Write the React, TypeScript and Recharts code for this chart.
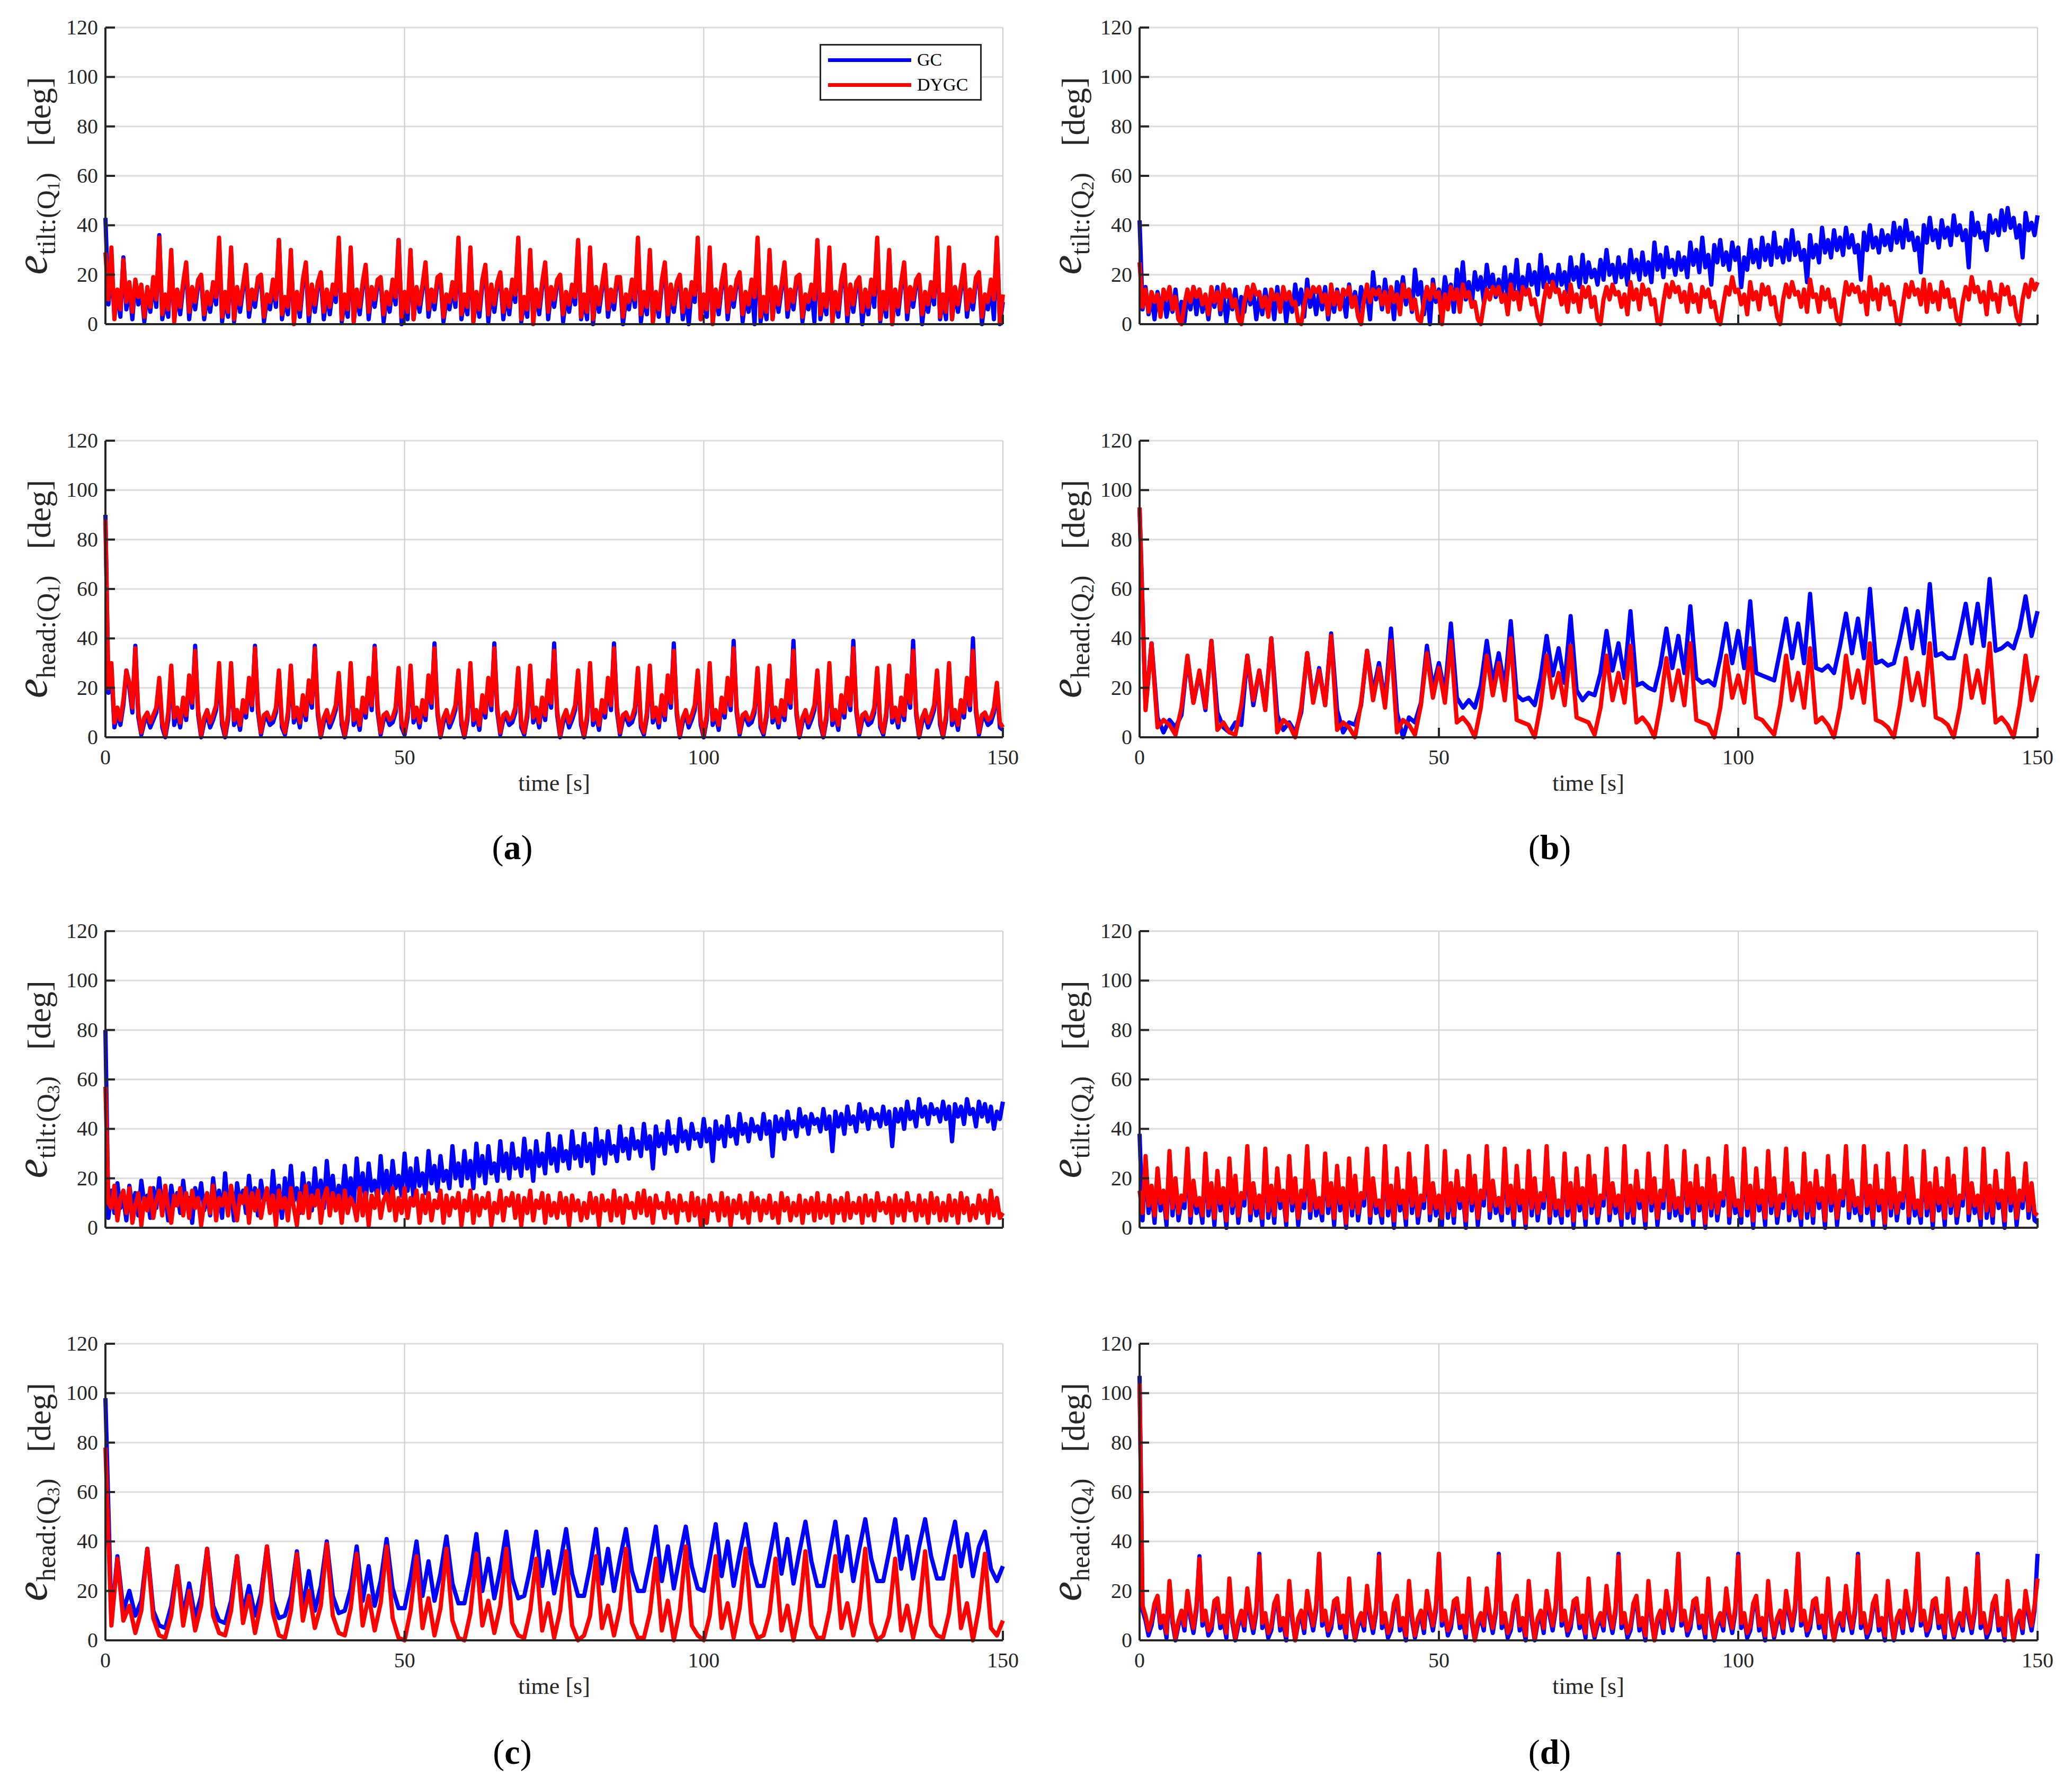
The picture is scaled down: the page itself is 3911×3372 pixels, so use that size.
import React from 'react';
import { LineChart, Line, XAxis, YAxis, CartesianGrid, Legend } from 'recharts';

const SERIF = '"Liberation Serif", "DejaVu Serif", serif';
const AXIS = '#262626';
const TICK_LEN = 18;

// time axes: half-second samples for the busy panels, one-second samples for the others
const timeFine = Array.from({ length: 301 }, (_, i) => i / 2);
const timeCoarse = Array.from({ length: 151 }, (_, i) => i);
const xTicks = [0, 50, 100, 150];
const yTicks = [0, 20, 40, 60, 80, 100, 120];
const seriesOrder = ['GC', 'DYGC'];

// (a) Q1 tilt, 0.5 s
const tiltQ1Gc = [
  43, 8, 22, 4, 12, 3, 27, 6, 15, 2, 17, 8, 14, 1, 13, 5, 17, 7, 36, 2,
  9, 3, 28, 2, 12, 4, 15, 22, 2, 13, 6, 16, 18, 2, 11, 5, 15, 8, 33, 1,
  11, 3, 29, 1, 13, 5, 14, 21, 3, 12, 7, 17, 18, 1, 10, 6, 16, 7, 34, 2,
  10, 4, 27, 2, 11, 3, 16, 23, 1, 14, 5, 15, 19, 2, 12, 4, 14, 9, 33, 1,
  9, 3, 29, 1, 12, 4, 15, 22, 2, 13, 7, 16, 17, 1, 11, 5, 16, 8, 34, 0,
  11, 2, 28, 2, 13, 5, 14, 23, 3, 12, 6, 17, 18, 1, 10, 6, 15, 7, 33, 2,
  10, 4, 29, 1, 11, 3, 16, 22, 1, 14, 5, 15, 19, 2, 12, 4, 16, 9, 34, 1,
  9, 3, 28, 2, 12, 4, 15, 23, 2, 13, 7, 16, 18, 1, 11, 5, 14, 8, 33, 2,
  10, 2, 29, 0, 13, 5, 14, 22, 3, 12, 6, 17, 17, 0, 10, 6, 16, 7, 34, 1,
  11, 4, 28, 1, 11, 3, 16, 23, 1, 14, 5, 15, 18, 2, 12, 0, 15, 9, 33, 2,
  10, 3, 29, 1, 12, 4, 15, 22, 2, 13, 7, 16, 19, 1, 11, 5, 16, 0, 34, 1,
  9, 2, 28, 2, 13, 5, 14, 23, 3, 12, 6, 17, 18, 1, 10, 6, 14, 1, 33, 2,
  10, 4, 29, 1, 11, 3, 16, 22, 1, 14, 5, 15, 17, 0, 12, 4, 16, 7, 34, 1,
  11, 3, 28, 0, 12, 4, 15, 23, 2, 13, 7, 16, 18, 0, 11, 5, 15, 8, 33, 2,
  10, 2, 29, 2, 13, 5, 14, 22, 3, 12, 6, 17, 19, 0, 10, 6, 16, 2, 34, 0,
  9,
];
const tiltQ1Dygc = [
  29, 10, 31, 2, 14, 6, 26, 9, 17, 5, 18, 11, 16, 3, 15, 7, 19, 10, 35, 4,
  12, 6, 30, 1, 14, 7, 17, 25, 5, 15, 9, 18, 20, 4, 13, 8, 17, 11, 35, 3,
  13, 5, 31, 2, 15, 8, 16, 24, 6, 14, 10, 19, 20, 3, 12, 9, 18, 10, 34, 4,
  11, 7, 30, 0, 13, 6, 18, 25, 4, 16, 8, 17, 21, 5, 14, 7, 16, 12, 35, 2,
  12, 6, 31, 1, 14, 7, 17, 24, 5, 15, 10, 18, 19, 4, 13, 8, 18, 11, 34, 3,
  13, 5, 30, 2, 15, 8, 16, 25, 6, 14, 9, 19, 20, 3, 12, 9, 17, 10, 35, 4,
  12, 7, 31, 1, 13, 6, 18, 24, 4, 16, 8, 17, 21, 5, 14, 7, 18, 12, 35, 2,
  11, 6, 30, 0, 14, 7, 17, 25, 5, 15, 10, 18, 20, 4, 13, 8, 16, 11, 34, 3,
  12, 5, 31, 2, 15, 8, 16, 24, 6, 14, 9, 19, 19, 3, 12, 9, 18, 10, 35, 4,
  13, 7, 30, 1, 13, 6, 18, 25, 4, 16, 8, 17, 20, 5, 14, 7, 17, 12, 35, 2,
  12, 6, 31, 0, 14, 7, 17, 24, 5, 15, 10, 18, 21, 4, 13, 8, 18, 11, 35, 3,
  11, 5, 30, 2, 15, 8, 16, 25, 6, 14, 9, 19, 20, 3, 12, 9, 16, 10, 34, 4,
  12, 7, 31, 1, 13, 6, 18, 24, 4, 16, 8, 17, 19, 5, 14, 7, 18, 12, 35, 2,
  13, 6, 30, 0, 14, 7, 17, 25, 5, 15, 10, 18, 20, 4, 13, 8, 17, 11, 35, 3,
  12, 5, 31, 2, 15, 8, 16, 24, 6, 14, 9, 19, 21, 3, 12, 9, 18, 10, 35, 1,
  12,
];

// (a) Q1 heading, 0.5 s
const headQ1Gc = [
  90, 18, 27, 4, 10, 5, 13, 27, 20, 10, 37, 8, 1, 6, 8, 4, 7, 10, 22, 4,
  0, 7, 27, 5, 10, 4, 14, 7, 23, 12, 37, 9, 0, 6, 9, 4, 7, 11, 27, 5,
  0, 7, 28, 5, 9, 3, 13, 8, 22, 11, 37, 10, 1, 7, 8, 5, 6, 10, 26, 4,
  1, 8, 27, 6, 10, 4, 15, 7, 21, 12, 37, 9, 0, 6, 9, 4, 7, 11, 25, 5,
  0, 7, 28, 5, 9, 3, 14, 8, 22, 11, 37, 10, 1, 7, 8, 5, 6, 10, 27, 4,
  1, 8, 27, 6, 10, 4, 13, 7, 23, 12, 38, 9, 0, 6, 9, 4, 7, 11, 26, 5,
  0, 7, 28, 5, 9, 3, 15, 8, 22, 11, 38, 10, 1, 7, 8, 5, 6, 10, 27, 4,
  1, 8, 27, 6, 10, 4, 14, 7, 21, 12, 38, 9, 0, 6, 9, 4, 7, 11, 26, 5,
  0, 7, 28, 5, 9, 3, 13, 8, 22, 11, 38, 10, 1, 7, 8, 5, 6, 10, 27, 4,
  1, 8, 27, 6, 10, 4, 15, 7, 23, 12, 38, 9, 0, 6, 9, 4, 7, 11, 26, 5,
  0, 7, 28, 5, 9, 3, 14, 8, 22, 11, 39, 10, 1, 7, 8, 5, 6, 10, 27, 4,
  1, 8, 27, 6, 10, 4, 13, 7, 21, 12, 39, 9, 0, 6, 9, 4, 7, 11, 26, 5,
  0, 7, 28, 5, 9, 3, 15, 8, 22, 11, 39, 10, 1, 7, 8, 5, 6, 10, 27, 4,
  1, 8, 27, 6, 10, 4, 14, 7, 23, 12, 39, 9, 0, 6, 9, 4, 7, 11, 26, 5,
  0, 7, 28, 5, 9, 3, 13, 8, 22, 11, 40, 10, 1, 7, 8, 5, 6, 10, 20, 4,
  3,
];
const headQ1Dygc = [
  88, 20, 30, 6, 12, 7, 15, 27, 22, 12, 36, 10, 2, 8, 10, 6, 9, 12, 24, 6,
  1, 10, 29, 8, 12, 6, 16, 9, 25, 14, 35, 11, 1, 8, 11, 6, 9, 13, 30, 7,
  1, 9, 30, 7, 11, 5, 15, 10, 24, 13, 36, 12, 2, 9, 10, 7, 8, 12, 27, 6,
  2, 10, 29, 8, 12, 6, 17, 9, 23, 14, 36, 11, 1, 8, 11, 6, 9, 13, 26, 7,
  1, 9, 30, 7, 11, 5, 16, 10, 24, 13, 36, 12, 2, 9, 10, 7, 8, 12, 28, 6,
  2, 10, 29, 8, 12, 6, 15, 9, 25, 14, 36, 11, 1, 8, 11, 6, 9, 13, 27, 7,
  1, 9, 30, 7, 11, 5, 17, 10, 24, 13, 36, 12, 2, 9, 10, 7, 8, 12, 28, 6,
  2, 10, 29, 8, 12, 6, 16, 9, 23, 14, 35, 11, 1, 8, 11, 6, 9, 13, 27, 7,
  1, 9, 30, 7, 11, 5, 15, 10, 24, 13, 36, 12, 2, 9, 10, 7, 8, 12, 28, 6,
  2, 10, 29, 8, 12, 6, 17, 9, 25, 14, 35, 11, 1, 8, 11, 6, 9, 13, 27, 7,
  1, 9, 30, 7, 11, 5, 16, 10, 24, 13, 36, 12, 2, 9, 10, 7, 8, 12, 28, 6,
  2, 10, 29, 8, 12, 6, 15, 9, 23, 14, 35, 11, 1, 8, 11, 6, 9, 13, 27, 7,
  1, 9, 30, 7, 11, 5, 17, 10, 24, 13, 36, 12, 2, 9, 10, 7, 8, 12, 28, 6,
  2, 10, 29, 8, 12, 6, 16, 9, 25, 14, 35, 11, 1, 8, 11, 6, 9, 13, 27, 7,
  1, 9, 30, 7, 11, 5, 15, 10, 24, 13, 35, 12, 2, 9, 10, 7, 8, 12, 22, 6,
  4,
];

// (b) Q2 tilt, 0.5 s
const tiltQ2Gc = [
  42, 6, 15, 4, 11, 2, 13, 7, 12, 3, 10, 5, 14, 2, 9, 1, 12, 6, 15, 4,
  14, 5, 11, 2, 13, 7, 15, 4, 12, 1, 10, 6, 14, 3, 11, 5, 15, 8, 13, 2,
  11, 4, 14, 7, 12, 2, 15, 6, 13, 1, 11, 5, 16, 8, 14, 3, 18, 7, 12, 4,
  13, 6, 15, 2, 12, 5, 14, 8, 11, 3, 16, 7, 13, 4, 15, 9, 12, 2, 21, 10,
  15, 6, 18, 9, 13, 2, 17, 11, 19, 8, 14, 5, 22, 12, 17, 4, 15, 0, 18, 9,
  14, 7, 19, 12, 16, 5, 22, 13, 25, 10, 17, 8, 21, 14, 19, 9, 24, 15, 20, 11,
  18, 12, 23, 10, 20, 14, 26, 11, 19, 13, 24, 16, 21, 12, 28, 15, 23, 17, 20, 14,
  24, 16, 21, 13, 27, 18, 23, 15, 28, 17, 25, 19, 22, 16, 26, 18, 30, 20, 24, 17,
  27, 19, 24, 16, 30, 21, 26, 18, 29, 20, 25, 17, 33, 22, 28, 19, 31, 23, 26, 20,
  29, 22, 27, 19, 33, 24, 30, 21, 35, 23, 28, 16, 32, 25, 34, 24, 29, 22, 33, 26,
  31, 15, 27, 22, 34, 25, 30, 23, 35, 26, 32, 24, 37, 27, 31, 25, 34, 26, 38, 28,
  33, 26, 30, 17, 36, 27, 32, 25, 39, 29, 34, 27, 38, 30, 35, 28, 39, 31, 36, 29,
  32, 18, 37, 30, 40, 31, 35, 29, 38, 32, 36, 30, 41, 33, 39, 31, 42, 34, 37, 30,
  35, 21, 40, 33, 43, 34, 38, 31, 42, 35, 39, 32, 44, 36, 40, 34, 38, 23, 45, 36,
  41, 35, 37, 30, 44, 37, 42, 36, 46, 38, 47, 39, 43, 35, 40, 27, 45, 38, 41, 36,
  44,
];
const tiltQ2Dygc = [
  25, 7, 14, 5, 13, 9, 12, 3, 14, 10, 15, 6, 11, 2, 0, 8, 14, 9, 15, 11,
  14, 8, 12, 4, 15, 9, 13, 6, 16, 11, 14, 7, 10, 2, 0, 9, 15, 10, 16, 12,
  13, 7, 11, 3, 14, 10, 12, 5, 15, 10, 13, 8, 9, 1, 0, 8, 14, 11, 15, 13,
  15, 9, 12, 4, 16, 8, 13, 6, 14, 12, 15, 7, 11, 3, 0, 10, 16, 9, 14, 12,
  14, 8, 13, 5, 15, 9, 12, 4, 16, 11, 14, 6, 10, 2, 1, 9, 15, 10, 16, 11,
  13, 0, 12, 6, 15, 10, 14, 5, 16, 11, 13, 7, 9, 2, 0, 8, 14, 10, 15, 12,
  15, 9, 12, 4, 16, 10, 13, 6, 15, 12, 14, 8, 10, 3, 0, 9, 16, 11, 17, 13,
  14, 8, 13, 5, 16, 9, 12, 5, 15, 11, 15, 7, 11, 2, 0, 10, 15, 10, 16, 12,
  13, 7, 12, 4, 17, 10, 14, 6, 16, 12, 14, 8, 10, 1, 0, 9, 16, 11, 17, 13,
  15, 9, 13, 5, 16, 9, 12, 5, 15, 11, 14, 7, 9, 2, 0, 8, 15, 12, 19, 13,
  14, 8, 12, 4, 17, 10, 13, 6, 16, 12, 15, 8, 11, 3, 0, 10, 16, 11, 17, 12,
  13, 7, 14, 5, 18, 11, 12, 5, 15, 10, 14, 7, 10, 2, 0, 9, 17, 12, 16, 13,
  15, 9, 13, 4, 19, 10, 14, 6, 16, 12, 15, 8, 9, 1, 0, 8, 16, 11, 17, 12,
  14, 8, 18, 5, 16, 9, 13, 6, 17, 11, 14, 7, 10, 2, 0, 9, 15, 10, 19, 13,
  15, 9, 13, 4, 17, 10, 12, 5, 16, 12, 15, 8, 11, 3, 0, 10, 16, 11, 18, 14,
  17,
];

// (b) Q2 heading, 1 s
const headQ2Gc = [
  93, 12, 38, 8, 2, 7, 4, 9, 32, 14,
  26, 11, 39, 10, 4, 2, 6, 5, 33, 13,
  27, 12, 40, 9, 3, 6, 2, 10, 34, 15,
  28, 13, 42, 11, 2, 6, 5, 13, 35, 18,
  30, 14, 44, 10, 0, 8, 6, 14, 37, 20,
  30, 18, 46, 16, 12, 15, 12, 21, 39, 22,
  34, 20, 47, 17, 15, 16, 13, 24, 41, 25,
  36, 22, 49, 19, 15, 18, 17, 26, 43, 27,
  38, 24, 51, 21, 22, 20, 19, 29, 44, 28,
  41, 26, 53, 24, 22, 23, 21, 32, 46, 30,
  43, 28, 55, 26, 25, 24, 23, 35, 48, 32,
  46, 30, 58, 28, 27, 29, 26, 37, 50, 34,
  48, 32, 60, 30, 31, 29, 30, 40, 52, 36,
  51, 34, 62, 33, 34, 32, 32, 42, 54, 38,
  54, 37, 64, 35, 36, 38, 36, 44, 57, 41,
  51,
];
const headQ2Dygc = [
  93, 11, 38, 4, 7, 5, 1, 12, 33, 14,
  27, 12, 39, 3, 6, 2, 1, 13, 33, 15,
  27, 11, 40, 2, 7, 5, 0, 12, 34, 14,
  27, 13, 41, 3, 6, 4, 0, 14, 35, 15,
  28, 12, 39, 2, 7, 5, 1, 13, 34, 16,
  28, 14, 39, 6, 8, 5, 0, 12, 33, 17,
  30, 15, 40, 7, 6, 5, 0, 13, 33, 16,
  26, 13, 37, 8, 7, 6, 1, 12, 33, 15,
  26, 14, 37, 6, 8, 5, 0, 13, 32, 15,
  27, 13, 38, 7, 6, 5, 0, 12, 33, 16,
  25, 14, 36, 8, 7, 4, 1, 13, 33, 15,
  26, 12, 36, 6, 8, 5, 0, 12, 33, 16,
  27, 14, 38, 7, 6, 4, 0, 13, 32, 15,
  26, 13, 38, 8, 7, 5, 0, 12, 33, 16,
  27, 14, 38, 6, 8, 5, 0, 13, 33, 15,
  25,
];

// (c) Q3 tilt, 0.5 s
const tiltQ3Gc = [
  80, 4, 15, 6, 18, 8, 12, 3, 17, 9, 14, 5, 19, 10, 13, 4, 16, 8, 20, 7,
  13, 3, 17, 9, 14, 6, 19, 8, 12, 2, 16, 10, 18, 7, 13, 5, 20, 9, 15, 4,
  22, 8, 14, 3, 18, 10, 15, 6, 21, 9, 16, 5, 19, 11, 14, 7, 23, 10, 17, 4,
  20, 9, 25, 11, 16, 6, 22, 12, 18, 7, 24, 10, 19, 8, 27, 13, 21, 9, 17, 11,
  25, 12, 20, 9, 28, 13, 22, 10, 26, 15, 19, 11, 29, 14, 23, 12, 27, 16, 21, 13,
  30, 15, 24, 12, 28, 17, 22, 14, 31, 18, 25, 15, 29, 19, 23, 16, 33, 20, 26, 17,
  31, 20, 27, 16, 34, 21, 29, 18, 33, 22, 26, 19, 35, 23, 30, 20, 34, 24, 28, 21,
  36, 24, 31, 19, 35, 25, 30, 22, 38, 26, 32, 23, 37, 27, 31, 24, 39, 28, 33, 25,
  38, 27, 34, 22, 40, 29, 35, 26, 39, 30, 33, 27, 41, 31, 36, 28, 40, 32, 35, 29,
  42, 32, 37, 24, 41, 33, 38, 30, 43, 34, 37, 31, 44, 35, 39, 32, 42, 36, 38, 33,
  44, 35, 40, 27, 43, 36, 41, 33, 45, 37, 40, 34, 46, 38, 42, 35, 44, 39, 41, 36,
  46, 38, 43, 29, 45, 39, 44, 36, 47, 40, 43, 37, 48, 41, 45, 38, 46, 42, 44, 39,
  48, 40, 45, 31, 47, 41, 46, 38, 49, 42, 45, 39, 50, 43, 47, 40, 48, 44, 46, 41,
  49, 42, 47, 33, 48, 43, 48, 40, 51, 44, 47, 41, 52, 45, 49, 42, 50, 46, 48, 43,
  51, 44, 49, 35, 50, 45, 49, 42, 52, 46, 48, 41, 51, 45, 50, 43, 49, 40, 47, 44,
  51,
];
const tiltQ3Dygc = [
  57, 10, 8, 17, 3, 12, 15, 6, 16, 2, 9, 14, 1, 12, 7, 16, 4, 11, 15, 5,
  17, 8, 2, 13, 9, 16, 5, 14, 4, 15, 8, 12, 1, 10, 14, 6, 17, 3, 12, 9,
  14, 5, 17, 9, 3, 13, 10, 16, 2, 14, 7, 15, 4, 11, 16, 6, 13, 1, 15, 8,
  12, 3, 16, 8, 1, 14, 6, 17, 4, 13, 9, 15, 2, 12, 16, 5, 14, 7, 13, 2,
  15, 6, 12, 9, 3, 16, 5, 14, 1, 13, 8, 15, 4, 11, 14, 7, 16, 3, 12, 6,
  16, 4, 12, 9, 15, 2, 13, 6, 14, 3, 11, 8, 15, 2, 13, 5, 12, 8, 14, 1,
  11, 7, 15, 2, 13, 5, 12, 8, 14, 1, 10, 6, 15, 3, 12, 9, 14, 4, 13, 1,
  12, 6, 15, 3, 11, 8, 14, 2, 13, 5, 10, 4, 14, 6, 12, 1, 13, 7, 11, 3,
  10, 4, 14, 6, 12, 1, 13, 7, 11, 3, 15, 5, 12, 2, 13, 8, 10, 4, 14, 6,
  15, 5, 12, 2, 13, 8, 10, 4, 14, 6, 11, 2, 13, 7, 10, 3, 14, 5, 12, 1,
  11, 2, 13, 7, 10, 3, 14, 5, 12, 1, 11, 6, 13, 4, 10, 2, 14, 7, 12, 3,
  11, 6, 13, 4, 10, 2, 14, 7, 12, 3, 10, 5, 13, 2, 11, 6, 12, 3, 14, 4,
  10, 5, 13, 2, 11, 6, 12, 3, 14, 4, 10, 6, 12, 2, 13, 5, 11, 3, 14, 7,
  10, 6, 12, 2, 13, 5, 11, 3, 14, 7, 10, 3, 13, 5, 11, 2, 14, 6, 12, 3,
  10, 3, 13, 5, 11, 2, 14, 6, 12, 3, 9, 4, 13, 6, 11, 2, 15, 5, 12, 4,
  6,
];

// (c) Q3 heading, 1 s
const headQ3Gc = [
  98, 8, 34, 12, 20, 10, 16, 37, 12, 6,
  5, 14, 30, 10, 23, 9, 18, 37, 14, 8,
  7, 16, 34, 11, 22, 10, 19, 38, 16, 9,
  10, 18, 36, 13, 28, 12, 22, 40, 18, 11,
  12, 21, 38, 16, 30, 14, 24, 41, 21, 13,
  13, 25, 40, 18, 32, 16, 27, 42, 23, 15,
  15, 27, 43, 20, 33, 17, 29, 44, 25, 17,
  18, 29, 44, 22, 36, 19, 31, 45, 27, 18,
  18, 30, 45, 23, 37, 20, 33, 45, 28, 20,
  20, 32, 46, 24, 38, 21, 34, 46, 30, 21,
  20, 33, 47, 26, 40, 22, 35, 47, 31, 22,
  22, 34, 47, 27, 41, 23, 36, 48, 32, 22,
  22, 35, 48, 28, 42, 24, 37, 49, 33, 24,
  24, 36, 49, 29, 42, 25, 38, 49, 34, 25,
  25, 37, 48, 30, 43, 26, 38, 44, 29, 24,
  30,
];
const headQ3Dygc = [
  78, 6, 33, 8, 14, 3, 12, 37, 9, 2,
  1, 10, 30, 6, 20, 4, 14, 37, 10, 3,
  2, 12, 34, 7, 18, 3, 15, 38, 11, 2,
  1, 12, 35, 8, 20, 5, 14, 39, 10, 3,
  2, 13, 35, 6, 18, 4, 15, 38, 9, 1,
  0, 12, 34, 5, 17, 2, 13, 37, 8, 1,
  0, 11, 35, 6, 16, 3, 14, 37, 7, 2,
  1, 12, 33, 4, 15, 1, 12, 36, 6, 0,
  2, 10, 34, 5, 14, 2, 13, 37, 7, 1,
  1, 11, 33, 4, 16, 0, 12, 38, 6, 2,
  0, 10, 34, 5, 15, 1, 13, 37, 7, 1,
  2, 11, 33, 4, 14, 0, 12, 36, 6, 1,
  1, 12, 34, 5, 15, 2, 13, 37, 7, 0,
  2, 10, 33, 4, 14, 1, 12, 36, 6, 2,
  1, 11, 34, 5, 15, 0, 13, 35, 5, 2,
  8,
];

// (d) Q4 tilt, 0.5 s
const tiltQ4Gc = [
  38, 3, 27, 6, 15, 2, 22, 7, 13, 1, 29, 5, 18, 3, 11, 8, 30, 2, 17, 6,
  10, 2, 28, 5, 16, 1, 21, 7, 14, 0, 26, 6, 19, 2, 12, 9, 31, 3, 16, 5,
  11, 1, 30, 4, 15, 2, 22, 8, 13, 1, 27, 7, 18, 1, 13, 8, 31, 4, 17, 5,
  10, 3, 28, 6, 16, 1, 23, 7, 14, 0, 26, 5, 19, 3, 12, 9, 30, 2, 18, 6,
  9, 2, 31, 5, 15, 0, 22, 7, 13, 1, 28, 6, 18, 2, 11, 8, 31, 3, 16, 5,
  11, 1, 29, 4, 16, 2, 21, 8, 14, 0, 27, 7, 19, 1, 13, 9, 31, 4, 17, 6,
  10, 3, 30, 6, 15, 1, 23, 7, 13, 0, 29, 5, 18, 3, 12, 8, 31, 2, 18, 5,
  9, 2, 28, 5, 16, 0, 22, 7, 14, 1, 27, 6, 19, 2, 11, 9, 30, 3, 16, 6,
  11, 1, 31, 4, 15, 2, 21, 8, 13, 0, 28, 7, 18, 1, 13, 8, 31, 4, 17, 5,
  10, 3, 29, 6, 16, 1, 23, 7, 14, 0, 26, 5, 19, 3, 12, 9, 31, 2, 18, 6,
  9, 2, 30, 5, 15, 0, 22, 7, 13, 1, 29, 6, 18, 2, 11, 8, 30, 3, 16, 5,
  11, 1, 28, 4, 16, 2, 21, 8, 14, 0, 27, 7, 19, 1, 13, 9, 31, 4, 17, 6,
  10, 3, 31, 6, 15, 1, 23, 7, 13, 0, 28, 5, 18, 3, 12, 8, 31, 2, 18, 5,
  9, 2, 29, 5, 16, 0, 22, 7, 14, 1, 26, 6, 19, 2, 11, 9, 30, 3, 16, 6,
  11, 1, 30, 4, 15, 2, 21, 8, 13, 0, 28, 7, 18, 1, 13, 8, 24, 4, 16, 3,
  2,
];
const tiltQ4Dygc = [
  15, 6, 29, 9, 17, 5, 24, 10, 15, 4, 31, 8, 20, 6, 13, 11, 32, 5, 19, 9,
  12, 5, 30, 8, 18, 4, 23, 10, 16, 3, 28, 9, 21, 5, 14, 12, 33, 6, 18, 8,
  13, 4, 32, 7, 17, 5, 24, 11, 15, 3, 29, 10, 20, 4, 15, 11, 33, 7, 19, 8,
  12, 6, 30, 9, 18, 4, 25, 10, 16, 2, 28, 8, 21, 6, 14, 12, 32, 5, 20, 9,
  11, 5, 33, 8, 17, 3, 24, 10, 15, 4, 30, 9, 20, 5, 13, 11, 33, 6, 18, 8,
  13, 4, 31, 7, 18, 5, 23, 11, 16, 3, 29, 10, 21, 4, 15, 12, 33, 7, 19, 9,
  12, 6, 32, 9, 17, 4, 25, 10, 15, 2, 31, 8, 20, 6, 14, 11, 33, 5, 20, 8,
  11, 5, 30, 8, 18, 3, 24, 10, 16, 4, 29, 9, 21, 5, 13, 12, 32, 6, 18, 9,
  13, 4, 33, 7, 17, 5, 23, 11, 15, 3, 30, 10, 20, 4, 15, 11, 33, 7, 19, 8,
  12, 6, 31, 9, 18, 4, 25, 10, 16, 2, 28, 8, 21, 6, 14, 12, 33, 5, 20, 9,
  11, 5, 32, 8, 17, 3, 24, 10, 15, 4, 31, 9, 20, 5, 13, 11, 32, 6, 18, 8,
  13, 4, 30, 7, 18, 5, 23, 11, 16, 3, 29, 10, 21, 4, 15, 12, 33, 7, 19, 9,
  12, 6, 33, 9, 17, 4, 25, 10, 15, 2, 30, 8, 20, 6, 14, 11, 33, 5, 20, 8,
  11, 5, 31, 8, 18, 3, 24, 10, 16, 4, 28, 9, 21, 5, 13, 12, 32, 6, 18, 9,
  13, 4, 32, 7, 17, 5, 23, 11, 15, 3, 30, 10, 20, 4, 15, 11, 26, 7, 18, 6,
  5,
];

// (d) Q4 heading, 0.5 s
const headQ4Gc = [
  107, 12, 8, 2, 6, 13, 16, 5, 8, 1, 22, 7, 0, 6, 10, 4, 18, 9, 3, 12,
  34, 6, 10, 2, 4, 14, 15, 5, 8, 1, 23, 7, 0, 6, 10, 4, 19, 9, 3, 11,
  35, 5, 9, 1, 4, 13, 16, 4, 7, 0, 22, 8, 0, 7, 10, 3, 18, 10, 4, 12,
  35, 6, 10, 2, 5, 14, 15, 5, 8, 1, 23, 7, 0, 6, 9, 4, 20, 9, 3, 11,
  35, 5, 9, 1, 4, 13, 16, 4, 7, 0, 22, 8, 1, 7, 10, 3, 18, 10, 4, 12,
  35, 6, 10, 2, 5, 14, 15, 5, 8, 1, 23, 7, 0, 6, 9, 4, 19, 9, 3, 11,
  35, 5, 9, 1, 4, 13, 16, 4, 7, 0, 22, 8, 0, 7, 10, 3, 18, 10, 4, 12,
  35, 6, 10, 2, 5, 14, 15, 5, 8, 1, 23, 7, 1, 6, 9, 4, 20, 9, 3, 11,
  35, 5, 9, 1, 4, 13, 16, 4, 7, 0, 22, 8, 0, 7, 10, 3, 18, 10, 4, 12,
  35, 6, 10, 2, 5, 14, 15, 5, 8, 1, 23, 7, 0, 6, 9, 4, 19, 9, 3, 11,
  35, 5, 9, 1, 4, 13, 16, 4, 7, 0, 22, 8, 1, 7, 10, 3, 18, 10, 4, 12,
  35, 6, 10, 2, 5, 14, 15, 5, 8, 1, 23, 7, 0, 6, 9, 4, 20, 9, 3, 11,
  35, 5, 9, 1, 4, 13, 16, 4, 7, 0, 22, 8, 0, 7, 10, 3, 18, 10, 4, 12,
  35, 6, 10, 2, 5, 14, 15, 5, 8, 1, 23, 7, 1, 6, 9, 4, 19, 9, 3, 11,
  35, 5, 9, 1, 4, 13, 16, 4, 7, 0, 22, 8, 0, 7, 10, 3, 18, 10, 4, 12,
  35,
];
const headQ4Dygc = [
  104, 14, 10, 4, 8, 15, 18, 7, 10, 3, 24, 9, 1, 8, 12, 6, 20, 11, 5, 14,
  33, 8, 12, 4, 6, 16, 17, 7, 10, 3, 25, 9, 1, 8, 12, 6, 21, 11, 5, 13,
  34, 7, 11, 3, 6, 15, 18, 6, 9, 2, 24, 10, 0, 9, 12, 5, 20, 12, 6, 14,
  35, 8, 12, 4, 7, 16, 17, 7, 10, 3, 25, 9, 1, 8, 11, 6, 22, 11, 5, 13,
  34, 7, 11, 3, 6, 15, 18, 6, 9, 2, 24, 10, 2, 9, 12, 5, 20, 12, 6, 14,
  35, 8, 12, 4, 7, 16, 17, 7, 10, 3, 25, 9, 0, 8, 11, 6, 21, 11, 5, 13,
  34, 7, 11, 3, 6, 15, 18, 6, 9, 2, 24, 10, 1, 9, 12, 5, 20, 12, 6, 14,
  35, 8, 12, 4, 7, 16, 17, 7, 10, 3, 25, 9, 2, 8, 11, 6, 22, 11, 5, 13,
  34, 7, 11, 3, 6, 15, 18, 6, 9, 2, 24, 10, 0, 9, 12, 5, 20, 12, 6, 14,
  35, 8, 12, 4, 7, 16, 17, 7, 10, 3, 25, 9, 1, 8, 11, 6, 21, 11, 5, 13,
  34, 7, 11, 3, 6, 15, 18, 6, 9, 2, 24, 10, 2, 9, 12, 5, 20, 12, 6, 14,
  35, 8, 12, 4, 7, 16, 17, 7, 10, 3, 25, 9, 0, 8, 11, 6, 22, 11, 5, 13,
  34, 7, 11, 3, 6, 15, 18, 6, 9, 2, 24, 10, 1, 9, 12, 5, 20, 12, 6, 14,
  35, 8, 12, 4, 7, 16, 17, 7, 10, 3, 25, 9, 2, 8, 11, 6, 21, 11, 5, 13,
  34, 7, 11, 3, 6, 15, 18, 6, 9, 2, 24, 10, 0, 9, 12, 5, 20, 12, 6, 14,
  25,
];

const PLOT_H = 560;
const AXIS_W = 199;
const M_TOP = 40;
const M_RIGHT = 40;
const LINE_W = 8;

const LeftTick = (props: any) => {
  const { x, y, payload } = props;
  const ax = x + 14;
  return (
    <g>
      <line x1={ax} x2={ax + TICK_LEN} y1={y} y2={y} stroke={AXIS} strokeWidth={4} />
      <text x={x} y={y + 13} textAnchor="end" fontFamily={SERIF} fontSize={40} fill={AXIS}>
        {payload.value}
      </text>
    </g>
  );
};

const RightTick = (props: any) => {
  const { x, y } = props;
  return <line x1={x - TICK_LEN} x2={x} y1={y} y2={y} stroke={AXIS} strokeWidth={4} />;
};

const TopTick = (props: any) => {
  const { x, y } = props;
  return <line x1={x} x2={x} y1={y} y2={y + TICK_LEN} stroke={AXIS} strokeWidth={4} />;
};

const makeBottomTick = (showLabel: boolean) => (props: any) => {
  const { x, y, payload } = props;
  return (
    <g>
      <line x1={x} x2={x} y1={y - TICK_LEN} y2={y} stroke={AXIS} strokeWidth={4} />
      {showLabel && (
        <text x={x} y={y + 51} textAnchor="middle" fontFamily={SERIF} fontSize={40} fill={AXIS}>
          {payload.value}
        </text>
      )}
    </g>
  );
};

const LegendBox = (props: any) => {
  const items = (props.payload || [])
    .slice()
    .sort((a: any, b: any) => seriesOrder.indexOf(a.value) - seriesOrder.indexOf(b.value));
  return (
    <div
      style={{
        boxSizing: 'border-box',
        width: 306,
        height: 107,
        border: `3px solid ${AXIS}`,
        background: '#fff',
        position: 'relative',
      }}
    >
      {items.map((e: any, i: number) => (
        <div
          key={e.value}
          style={{ position: 'absolute', left: 13, top: 9 + i * 47, height: 36, display: 'flex', alignItems: 'center' }}
        >
          <div style={{ width: 157, height: 7, background: e.color }} />
          <span style={{ marginLeft: 11, fontFamily: SERIF, fontSize: 34, color: '#000', lineHeight: '36px' }}>
            {e.value}
          </span>
        </div>
      ))}
    </div>
  );
};

interface PanelProps {
  left: number;
  top: number;
  plotW: number;
  time: number[];
  gc: number[];
  dygc: number[];
  showTime: boolean;
  legend?: boolean;
}

const Panel = ({ left, top, plotW, time, gc, dygc, showTime, legend }: PanelProps) => {
  const data = time.map((t, i) => ({ t, gc: gc[i], dygc: dygc[i] }));
  const bottomH = showTime ? 140 : 40;
  const axisLine = { stroke: AXIS, strokeWidth: 4 };
  return (
    <div style={{ position: 'absolute', left, top }}>
      <LineChart
        width={AXIS_W + plotW + M_RIGHT}
        height={M_TOP + PLOT_H + bottomH}
        data={data}
        margin={{ top: M_TOP, right: M_RIGHT, bottom: 0, left: 0 }}
      >
        <CartesianGrid vertical={false} stroke="#dcdcdc" strokeWidth={3} />
        <CartesianGrid horizontal={false} stroke="#cdcdcd" strokeWidth={2} />
        <XAxis
          dataKey="t"
          type="number"
          domain={[0, 150]}
          ticks={xTicks}
          interval={0}
          height={bottomH}
          tickSize={0}
          tickMargin={0}
          tickLine={false}
          axisLine={axisLine}
          tick={makeBottomTick(showTime)}
        />
        <XAxis
          xAxisId="top"
          orientation="top"
          dataKey="t"
          type="number"
          domain={[0, 150]}
          ticks={xTicks}
          interval={0}
          height={0}
          tickSize={0}
          tickMargin={0}
          tickLine={false}
          axisLine={axisLine}
          tick={TopTick}
        />
        <YAxis
          domain={[0, 120]}
          ticks={yTicks}
          interval={0}
          width={AXIS_W}
          tickSize={0}
          tickMargin={14}
          tickLine={false}
          axisLine={axisLine}
          tick={LeftTick}
        />
        <YAxis
          yAxisId="right"
          orientation="right"
          domain={[0, 120]}
          ticks={yTicks}
          interval={0}
          width={0}
          tickSize={0}
          tickMargin={0}
          tickLine={false}
          axisLine={axisLine}
          tick={RightTick}
        />
        <Line
          type="linear"
          dataKey="gc"
          name="GC"
          stroke="#0000ff"
          strokeWidth={LINE_W}
          strokeLinejoin="round"
          dot={false}
          isAnimationActive={false}
        />
        <Line
          type="linear"
          dataKey="dygc"
          name="DYGC"
          stroke="#ff0000"
          strokeWidth={LINE_W}
          strokeLinejoin="round"
          dot={false}
          isAnimationActive={false}
        />
        {legend && (
          <Legend
            layout="horizontal"
            verticalAlign="middle"
            align="center"
            wrapperStyle={{ left: 1547, top: 71, width: 306, height: 107 }}
            content={LegendBox}
          />
        )}
      </LineChart>
    </div>
  );
};

const YLabel = ({ x, cy, kind, q }: { x: number; cy: number; kind: string; q: string }) => (
  <text transform={`translate(${x},${cy}) rotate(-90)`} textAnchor="middle" fontFamily={SERIF} fill={AXIS}>
    <tspan fontStyle="italic" fontSize={84}>e</tspan>
    <tspan fontSize={50} dy={16}>{kind}:(Q</tspan>
    <tspan fontSize={33} dy={8}>{q}</tspan>
    <tspan fontSize={50} dy={-8}>)</tspan>
    <tspan fontSize={62} dx={50} dy={-9}>[deg]</tspan>
  </text>
);

const SubLabel = ({ x, y, letter }: { x: number; y: number; letter: string }) => (
  <text x={x} y={y} textAnchor="middle" fontFamily={SERIF} fontSize={66} fill="#000">
    (<tspan fontWeight="bold">{letter}</tspan>)
  </text>
);

const TimeLabel = ({ x, y }: { x: number; y: number }) => (
  <text x={x} y={y} textAnchor="middle" fontFamily={SERIF} fontSize={44} fill={AXIS}>
    time [s]
  </text>
);

export default function App() {
  return (
    <div style={{ position: 'absolute', left: 0, top: 0, width: 3911, height: 3372, background: '#fff' }}>
      <Panel left={0} top={12} plotW={1694} time={timeFine} gc={tiltQ1Gc} dygc={tiltQ1Dygc} showTime={false} legend />
      <Panel left={0} top={792} plotW={1694} time={timeFine} gc={headQ1Gc} dygc={headQ1Dygc} showTime />
      <Panel left={1952} top={12} plotW={1695} time={timeFine} gc={tiltQ2Gc} dygc={tiltQ2Dygc} showTime={false} />
      <Panel left={1952} top={792} plotW={1695} time={timeCoarse} gc={headQ2Gc} dygc={headQ2Dygc} showTime />
      <Panel left={0} top={1718} plotW={1694} time={timeFine} gc={tiltQ3Gc} dygc={tiltQ3Dygc} showTime={false} />
      <Panel left={0} top={2497} plotW={1694} time={timeCoarse} gc={headQ3Gc} dygc={headQ3Dygc} showTime />
      <Panel left={1952} top={1718} plotW={1695} time={timeFine} gc={tiltQ4Gc} dygc={tiltQ4Dygc} showTime={false} />
      <Panel left={1952} top={2497} plotW={1695} time={timeFine} gc={headQ4Gc} dygc={headQ4Dygc} showTime />
      <svg
        width={3911}
        height={3372}
        style={{ position: 'absolute', left: 0, top: 0, pointerEvents: 'none' }}
      >
        <YLabel x={88} cy={332} kind="tilt" q="1" />
        <YLabel x={88} cy={1112} kind="head" q="1" />
        <YLabel x={2040} cy={332} kind="tilt" q="2" />
        <YLabel x={2040} cy={1112} kind="head" q="2" />
        <YLabel x={88} cy={2038} kind="tilt" q="3" />
        <YLabel x={88} cy={2817} kind="head" q="3" />
        <YLabel x={2040} cy={2038} kind="tilt" q="4" />
        <YLabel x={2040} cy={2817} kind="head" q="4" />
        <TimeLabel x={1046} y={1493} />
        <TimeLabel x={2998} y={1493} />
        <TimeLabel x={1046} y={3198} />
        <TimeLabel x={2998} y={3198} />
        <SubLabel x={967} y={1622} letter="a" />
        <SubLabel x={2925} y={1622} letter="b" />
        <SubLabel x={967} y={3330} letter="c" />
        <SubLabel x={2925} y={3330} letter="d" />
      </svg>
    </div>
  );
}
